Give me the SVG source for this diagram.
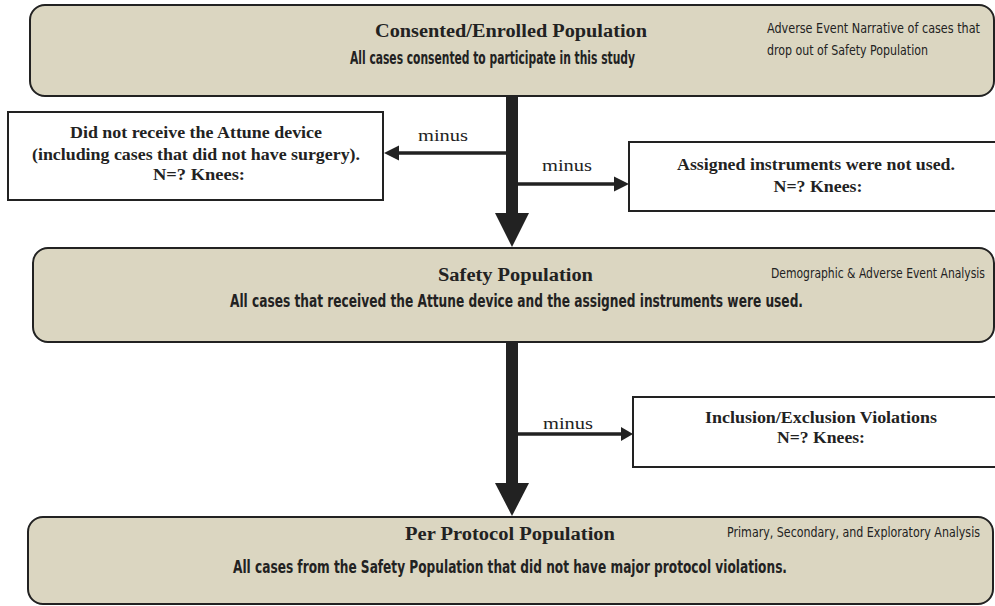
<svg xmlns="http://www.w3.org/2000/svg" width="995" height="606" viewBox="0 0 995 606">
<style>
.pop{fill:#dbd6c1;stroke:#222;stroke-width:2}
.box{fill:#fff;stroke:#222;stroke-width:2}
.title{font-family:"Liberation Serif","Times New Roman",serif;font-weight:bold;font-size:18.5px;fill:#222}
.sub{font-family:"DejaVu Sans Condensed","DejaVu Sans",sans-serif;font-stretch:condensed;font-weight:bold;font-size:18px;fill:#222}
.note{font-family:"DejaVu Sans Condensed","DejaVu Sans",sans-serif;font-stretch:condensed;font-size:14.5px;fill:#222}
.bt{font-family:"Liberation Serif","Times New Roman",serif;font-weight:bold;font-size:16.5px;fill:#222;text-anchor:middle}
.lbl{font-family:"Liberation Serif","Times New Roman",serif;font-size:17px;fill:#222}
.ln{stroke:#222;stroke-width:3.5;fill:none}
.hd{fill:#222}
</style>
<g id="consented">
<rect class="pop" x="30" y="5" width="964" height="91" rx="15"/>
<text class="title" x="375" y="37" textLength="272" lengthAdjust="spacingAndGlyphs">Consented/Enrolled Population</text>
<text class="sub" x="350" y="64" textLength="285" lengthAdjust="spacingAndGlyphs">All cases consented to participate in this study</text>
<text class="note" x="767" y="33" textLength="213" lengthAdjust="spacingAndGlyphs">Adverse Event Narrative of cases that</text>
<text class="note" x="767" y="55" textLength="161" lengthAdjust="spacingAndGlyphs">drop out of Safety Population</text>
</g>
<g id="no-device">
<rect class="box" x="8" y="112" width="375" height="88"/>
<text class="bt" x="196" y="138" textLength="252" lengthAdjust="spacingAndGlyphs">Did not receive the Attune device</text>
<text class="bt" x="196" y="160" textLength="328" lengthAdjust="spacingAndGlyphs">(including cases that did not have surgery).</text>
<text class="bt" x="199" y="180" textLength="92" lengthAdjust="spacingAndGlyphs">N=? Knees:</text>
</g>
<g id="not-used">
<rect class="box" x="629" y="142" width="380" height="69"/>
<text class="bt" x="816" y="170" textLength="278" lengthAdjust="spacingAndGlyphs">Assigned instruments were not used.</text>
<text class="bt" x="818" y="192" textLength="89" lengthAdjust="spacingAndGlyphs">N=? Knees:</text>
</g>
<g id="safety">
<rect class="pop" x="33" y="248" width="961" height="94" rx="15"/>
<text class="title" x="438" y="281" textLength="155" lengthAdjust="spacingAndGlyphs">Safety Population</text>
<text class="sub" x="230" y="307" textLength="573" lengthAdjust="spacingAndGlyphs">All cases that received the Attune device and the assigned instruments were used.</text>
<text class="note" x="771" y="278" textLength="214" lengthAdjust="spacingAndGlyphs">Demographic &amp; Adverse Event Analysis</text>
</g>
<g id="violations">
<rect class="box" x="633" y="397" width="380" height="70"/>
<text class="bt" x="821" y="423" textLength="232" lengthAdjust="spacingAndGlyphs">Inclusion/Exclusion Violations</text>
<text class="bt" x="821" y="443" textLength="88" lengthAdjust="spacingAndGlyphs">N=? Knees:</text>
</g>
<g id="per-protocol">
<rect class="pop" x="28" y="517" width="965" height="87" rx="15"/>
<text class="title" x="405" y="540" textLength="210" lengthAdjust="spacingAndGlyphs">Per Protocol Population</text>
<text class="sub" x="233" y="573" textLength="554" lengthAdjust="spacingAndGlyphs">All cases from the Safety Population that did not have major protocol violations.</text>
<text class="note" x="727" y="537" textLength="253" lengthAdjust="spacingAndGlyphs">Primary, Secondary, and Exploratory Analysis</text>
</g>
<g id="connectors">
<rect class="hd" x="506" y="96" width="12" height="118"/>
<polygon class="hd" points="495,213 529,213 512,247"/>
<rect class="hd" x="506" y="342" width="12" height="142"/>
<polygon class="hd" points="495,483 529,483 512,516"/>
<line class="ln" x1="507" y1="153" x2="396" y2="153"/>
<polygon class="hd" points="384,153 399,145.5 399,160.5"/>
<line class="ln" x1="517" y1="184" x2="616" y2="184"/>
<polygon class="hd" points="629,184 614,176.5 614,191.5"/>
<line class="ln" x1="517" y1="434" x2="624" y2="434"/>
<polygon class="hd" points="633,434 621,427 621,441"/>
<text class="lbl" x="418" y="141" textLength="50" lengthAdjust="spacingAndGlyphs">minus</text>
<text class="lbl" x="542" y="171" textLength="50" lengthAdjust="spacingAndGlyphs">minus</text>
<text class="lbl" x="543" y="429" textLength="50" lengthAdjust="spacingAndGlyphs">minus</text>
</g>
</svg>
